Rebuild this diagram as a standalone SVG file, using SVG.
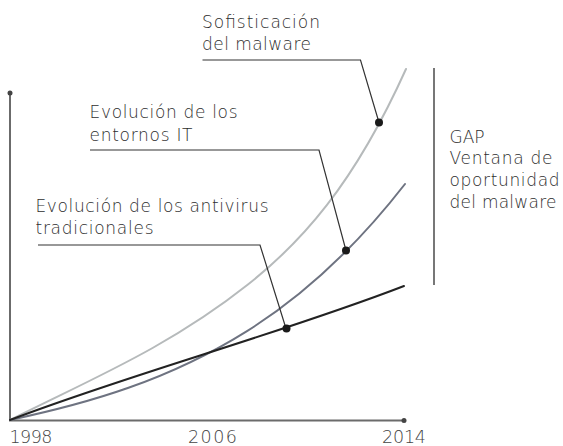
<svg xmlns="http://www.w3.org/2000/svg" width="563" height="446" viewBox="0 0 563 446">
<style>
text{font-family:"DejaVu Sans","Open Sans",sans-serif;font-weight:200;font-size:17px;fill:#2e2e2e;}
.ax{font-size:17.5px;fill:#444;}
.axis{fill:none;stroke:#6b6b6b;stroke-width:2;}
.curve{fill:none;stroke-width:2;stroke-linecap:round;}
.lead{fill:none;stroke:#333;stroke-width:1.2;}
.dot{fill:#1a1a1a;}
.tick{fill:#444;}
</style>
<rect width="563" height="446" fill="#fff"/>
<g id="axes">
<path class="axis" d="M10,93 V420.5 H404"/>
<circle class="tick" cx="10" cy="93" r="2.5"/>
<circle class="tick" cx="404" cy="420.5" r="2.5"/>
<text class="ax" x="9.5" y="442.5" textLength="43">1998</text>
<text class="ax" x="188" y="442.5" textLength="49">2006</text>
<text class="ax" x="382" y="442.5" textLength="44">2014</text>
</g>
<g id="curve-malware">
<path class="curve" stroke="#b6babb" d="M10,420 C89.2,380 168.4,347.6 247.6,284.8 C300.4,243 353.2,186.2 406,69"/>
</g>
<g id="curve-entornos">
<path class="curve" stroke="#6e7381" d="M10,420 C89,403.2 168,380.6 247,331.1 C299.7,298.1 352.3,251.8 405,184"/>
</g>
<g id="curve-antivirus">
<path class="curve" stroke="#222" stroke-width="2.4" d="M10,420 C130,374 280,334 404,286"/>
</g>
<g id="connectors">
<path class="lead" d="M202.5,60 H360.5 L379,122.5"/>
<path class="lead" d="M90,150 H319 L346,250.5"/>
<path class="lead" d="M38,245 H260 L286,328.5"/>
<circle class="dot" cx="379" cy="122.5" r="4"/>
<circle class="dot" cx="346" cy="250.5" r="4"/>
<circle class="dot" cx="286.5" cy="328.5" r="4"/>
</g>
<g id="label-malware">
<text x="202" y="28.3" textLength="118">Sofisticación</text>
<text x="202" y="50" textLength="109">del malware</text>
</g>
<g id="label-entornos">
<text x="89.5" y="118.3" textLength="148">Evolución de los</text>
<text x="89.5" y="140.5" textLength="103">entornos IT</text>
</g>
<g id="label-antivirus">
<text x="35.5" y="212.3" textLength="233">Evolución de los antivirus</text>
<text x="35.5" y="234" textLength="118">tradicionales</text>
</g>
<g id="gap">
<path fill="none" stroke="#777" stroke-width="2" d="M434,68 V285"/>
<text x="449.5" y="142.7">GAP</text>
<text x="449.5" y="164.3" textLength="103">Ventana de</text>
<text x="449.5" y="186" textLength="110">oportunidad</text>
<text x="449.5" y="207.5" textLength="107">del malware</text>
</g>
</svg>
